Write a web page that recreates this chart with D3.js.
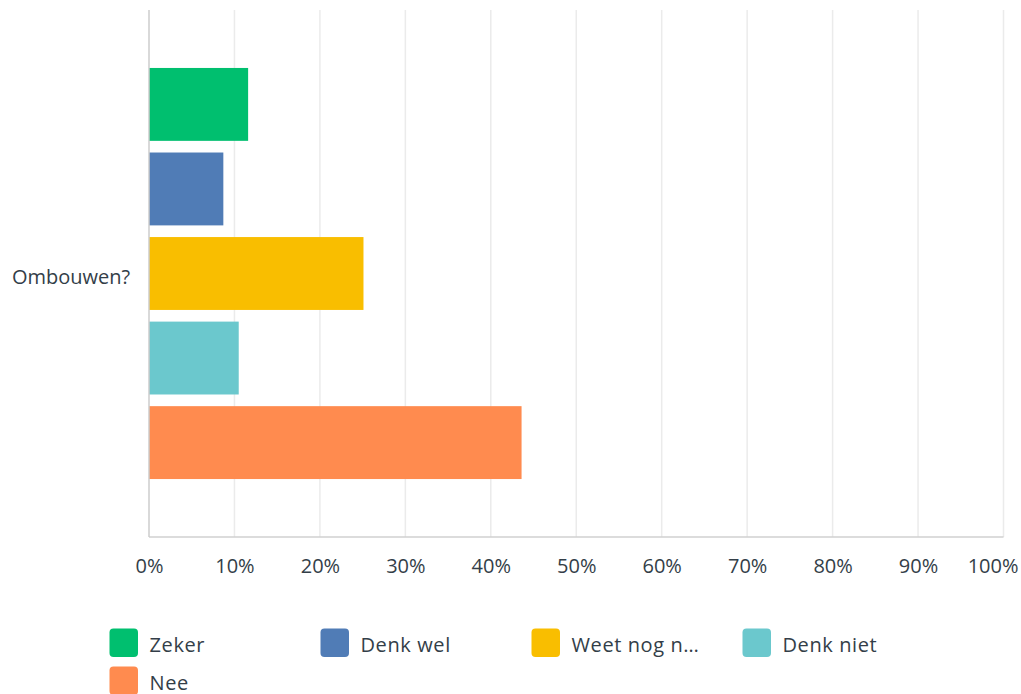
<!DOCTYPE html>
<html>
<head>
	<meta http-equiv="Content-Type" content="text/html; charset=utf-8">
	<title>Ombouwen?</title>
	<script type="text/javascript" src="https://cdn.jsdelivr.net/npm/d3@7/dist/d3.min.js"></script>
	<style type="text/css">
		body{
			margin: 0;
			background: #fff;
		}
		text{
			font-family: "Open Sans", sans-serif;
			fill: #333e48;
		}
	</style>
</head>
<body>
<div id="chart"></div>

<script type="text/javascript">

var categories = ["Ombouwen?"];
var series_names = ["Zeker", "Denk wel", "Weet nog niet", "Denk niet", "Nee"];
var series_values = [11.6, 8.7, 25.1, 10.5, 43.6];
var series_colors = ["#00bf6f", "#507cb6", "#f9be00", "#6bc8cd", "#ff8b4f"];
var tick_values = [0, 10, 20, 30, 40, 50, 60, 70, 80, 90, 100];

var width = 1021, height = 694;
var plot_left = 149, plot_right = 1003.5, plot_top = 10, plot_bottom = 537;

var svg = d3.select("#chart").append("svg")
	.attr("width", width)
	.attr("height", height);

var x = d3.scaleLinear().domain([0, 100]).range([plot_left, plot_right]);

var y_outer = d3.scaleBand().domain(categories)
	.range([plot_top, plot_bottom])
	.paddingOuter(0.141);

//bars inside the category band
var y_inner = d3.scaleBand().domain(series_names)
	.range([0, y_outer.bandwidth()])
	.paddingInner(0.138);

// gridlines
svg.append("g").selectAll("line")
	.data(tick_values.slice(1))
	.enter()
	.append("line")
	.attr("x1", function(d){ return x(d); })
	.attr("x2", function(d){ return x(d); })
	.attr("y1", plot_top)
	.attr("y2", plot_bottom)
	.attr("stroke", "#ebebeb")
	.attr("stroke-width", 1.5);

// bars
var groups = svg.append("g").selectAll("g")
	.data(categories)
	.enter()
	.append("g")
	.attr("transform", function(d){ return "translate(0," + y_outer(d) + ")"; });

groups.selectAll("rect")
	.data(function(){
		return series_names.map(function(name, i){
			return {name: name, value: series_values[i], color: series_colors[i]};
		});
	})
	.enter()
	.append("rect")
	.attr("x", x(0))
	.attr("y", function(d){ return y_inner(d.name); })
	.attr("width", function(d){ return x(d.value) - x(0); })
	.attr("height", y_inner.bandwidth())
	.attr("fill", function(d){ return d.color; });

// axis lines
svg.append("line")
	.attr("x1", plot_left).attr("x2", plot_right)
	.attr("y1", plot_bottom).attr("y2", plot_bottom)
	.attr("stroke", "#d0d0d0").attr("stroke-width", 1.5);
svg.append("line")
	.attr("x1", plot_left).attr("x2", plot_left)
	.attr("y1", plot_top).attr("y2", plot_bottom)
	.attr("stroke", "#cccccc").attr("stroke-width", 1.5);

// x axis
var x_axis = d3.axisBottom(x)
	.tickValues(tick_values)
	.tickSize(0)
	.tickPadding(0)
	.tickFormat(function(d){ return d + "%"; });

var ax = svg.append("g")
	.attr("transform", "translate(0," + plot_bottom + ")")
	.call(x_axis);
ax.select(".domain").remove();
ax.selectAll("text")
	.attr("y", 36)
	.attr("dy", null)
	.style("font-size", "20px")
	.style("font-family", "\"Open Sans\", sans-serif")
	.attr("fill", "#333e48");
// last label is pulled in so it fits the page
ax.selectAll(".tick")
	.filter(function(d){ return d == 100; })
	.select("text")
	.attr("text-anchor", "end")
	.attr("x", 1018 - x(100));

// y labels
svg.append("g").selectAll("text")
	.data(categories)
	.enter()
	.append("text")
	.attr("x", 12)
	.attr("y", function(d){ return y_outer(d) + y_outer.bandwidth() / 2 + 10; })
	.style("font-size", "20px")
	.text(function(d){ return d; });

// legend
function truncate(s){
	if(s.length > 10) return s.substring(0, 10) + "…";
	return s;
}
var legend = svg.append("g").selectAll("g")
	.data(series_names)
	.enter()
	.append("g")
	.attr("transform", function(d, i){
		return "translate(" + (109.5 + (i % 4) * 211) + "," + (628.5 + Math.floor(i / 4) * 38) + ")";
	});
legend.append("rect")
	.attr("width", 28.5)
	.attr("height", 28.5)
	.attr("rx", 4)
	.attr("fill", function(d, i){ return series_colors[i]; });
legend.append("text")
	.attr("x", 40)
	.attr("y", 23)
	.style("font-size", "20px")
	.style("letter-spacing", "0.6px")
	.text(function(d){ return truncate(d); });

</script>
</body>
</html>
